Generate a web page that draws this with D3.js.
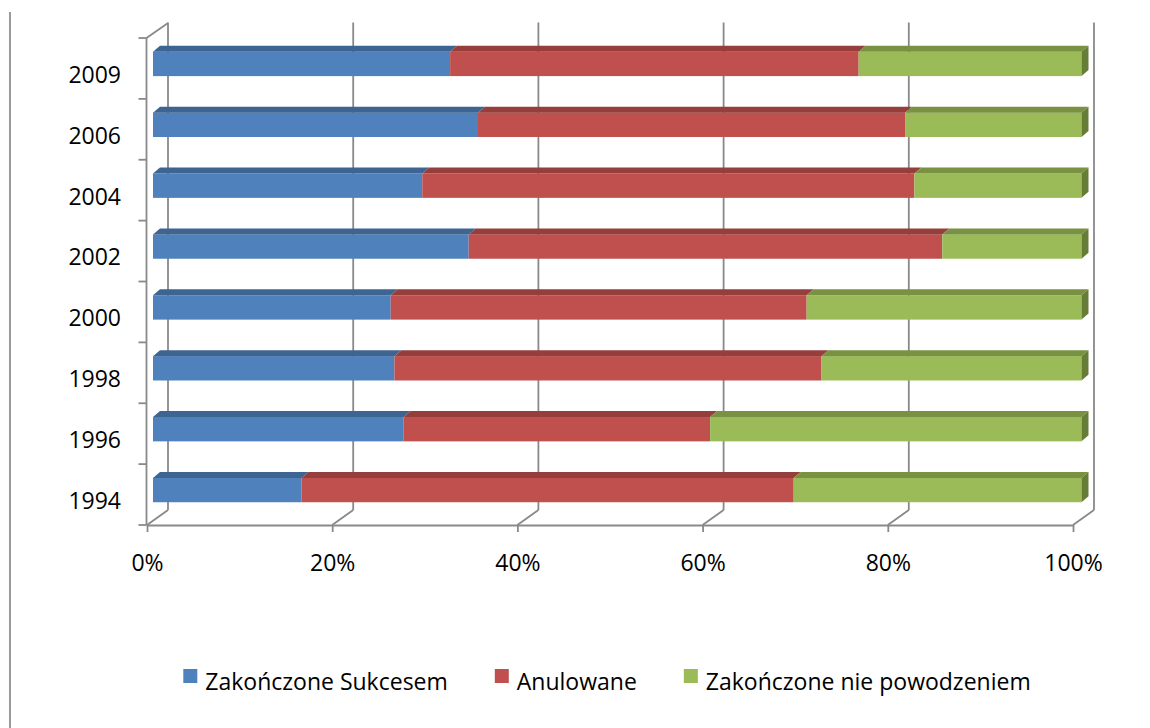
<!DOCTYPE html>
<html>
<head>
<meta charset="utf-8">
<script src="https://cdn.jsdelivr.net/npm/d3@7"></script>
<style>
  html, body { margin: 0; padding: 0; background: #fff; }
  svg { display: block; }
  text { font-family: "Open Sans", "Noto Sans", sans-serif; fill: #000; }
</style>
</head>
<body>
<svg id="chart" width="1150" height="728"></svg>
<script>
// ---- data ----
const categories = ["2009", "2006", "2004", "2002", "2000", "1998", "1996", "1994"];
const seriesNames = ["Zakończone Sukcesem", "Anulowane", "Zakończone nie powodzeniem"];
const success   = [32, 35, 29, 34, 25.6, 26, 27, 16];
const cancelled = [44, 46, 53, 51, 44.8, 46, 33, 53];
const failed    = [24, 19, 18, 15, 29.6, 28, 40, 31];
const xTickValues = [0, 20, 40, 60, 80, 100];

// ---- styles ----
const frontColors = ["#4F81BD", "#C0504D", "#9BBB59"];
const topColors   = ["#3E6592", "#953E3C", "#789241"];
const sideColor   = "#667C37";
const gridColor   = "#898989";

const svg = d3.select("#chart");

// table for stacking
const keys = ["s", "c", "f"];
const table = categories.map((cat, i) => ({ cat, s: success[i], c: cancelled[i], f: failed[i] }));
const stacked = d3.stack().keys(keys).offset(d3.stackOffsetExpand)(table);

// ---- scales ----
const xFront = d3.scaleLinear().domain([0, 1]).range([147, 1073]);
const yFront = d3.scaleBand().domain(categories).range([38, 525]);
const depth = { dx: 21, dy: -15 };           // full depth of the 3D box
const xBar = d3.scaleLinear().domain([0, 1]).range([153, 1081.5]);
const yBar = d3.scaleBand().domain(categories).range([33.5, 520.5]).paddingInner(0.6).paddingOuter(0.3);
const bd = { dx: 7, dy: -6 };                // bar depth

const floorY = 525, topY = 38;

// ---- back wall gridlines ----
const grid = svg.append("g").attr("stroke", gridColor).attr("stroke-width", 1.8).attr("fill", "none");
xTickValues.forEach(t => {
  const xf = xFront(t / 100);
  grid.append("line")
    .attr("x1", xf + depth.dx).attr("y1", topY + depth.dy - 0.5)
    .attr("x2", xf + depth.dx).attr("y2", floorY + depth.dy);
  // floor diagonal
  grid.append("line")
    .attr("x1", xf).attr("y1", floorY)
    .attr("x2", xf + depth.dx).attr("y2", floorY + depth.dy);
});
// left wall top diagonal
grid.append("line")
  .attr("x1", xFront(0) - 0.5).attr("y1", topY)
  .attr("x2", xFront(0) + depth.dx).attr("y2", topY + depth.dy);
// left vertical axis
grid.append("line")
  .attr("x1", xFront(0) - 0.5).attr("y1", topY)
  .attr("x2", xFront(0) - 0.5).attr("y2", floorY);
// category boundary ticks
d3.range(categories.length + 1).forEach(i => {
  const y = i < categories.length ? yFront(categories[i]) : yFront.range()[1];
  grid.append("line")
    .attr("x1", xFront(0) - 8.5).attr("y1", y)
    .attr("x2", xFront(0) - 0.5).attr("y2", y);
});

// ---- x axis (front floor edge) ----
const xAxisScale = d3.scaleLinear().domain([0, 100]).range(xFront.range());
const xAxis = svg.append("g")
  .attr("transform", `translate(0,${floorY})`)
  .call(d3.axisBottom(xAxisScale).tickValues(xTickValues).tickFormat(d => d + "%")
    .tickSize(7).tickSizeOuter(0).tickPadding(23));
xAxis.select(".domain").attr("stroke", gridColor).attr("stroke-width", 1.8);
xAxis.selectAll(".tick line").attr("stroke", gridColor).attr("stroke-width", 1.8);
xAxis.selectAll(".tick text").style("font-size", "23px").style("font-family", "'Open Sans', sans-serif").attr("fill", "#000");

// ---- y axis labels ----
const yAxis = svg.append("g")
  .attr("transform", `translate(121,7)`)
  .call(d3.axisLeft(yFront).tickSize(0).tickPadding(0));
yAxis.select(".domain").remove();
yAxis.selectAll(".tick text").style("font-size", "23px").style("font-family", "'Open Sans', sans-serif").attr("fill", "#000");

// ---- bars ----
const bars = svg.append("g");
stacked.forEach((layer, si) => {
  layer.forEach((d, i) => {
    const cat = categories[i];
    const x0 = xBar(d[0]), x1 = xBar(d[1]);
    const y0 = yBar(cat), y1 = y0 + yBar.bandwidth();
    // front face
    bars.append("rect")
      .attr("x", x0).attr("y", y0)
      .attr("width", x1 - x0).attr("height", y1 - y0)
      .attr("fill", frontColors[si]);
    // top face
    bars.append("polygon")
      .attr("points", [[x0, y0], [x1, y0], [x1 + bd.dx, y0 + bd.dy], [x0 + bd.dx, y0 + bd.dy]].map(p => p.join(",")).join(" "))
      .attr("fill", topColors[si]);
    if (si === stacked.length - 1) {
      bars.append("polygon")
        .attr("points", [[x1, y0], [x1 + bd.dx, y0 + bd.dy], [x1 + bd.dx, y1 + bd.dy], [x1, y1]].map(p => p.join(",")).join(" "))
        .attr("fill", sideColor);
    }
  });
});

// ---- chart border (left edge) ----
svg.append("line")
  .attr("x1", 10).attr("y1", 12).attr("x2", 10).attr("y2", 728)
  .attr("stroke", "#9a9a9a").attr("stroke-width", 2);

// ---- legend ----
const legend = svg.append("g");
const items = [];
let cx = 0;
seriesNames.forEach((name, i) => {
  const g = legend.append("g");
  g.append("rect").attr("x", 0).attr("y", -21).attr("width", 14).attr("height", 14).attr("fill", frontColors[i]);
  const t = g.append("text").attr("x", 22).attr("y", 0).style("font-size", "23px").text(name);
  const w = 22 + t.node().getComputedTextLength();
  g.attr("transform", `translate(${cx},0)`);
  cx += w + 47;
  items.push(g);
});
const totalW = cx - 47;
legend.attr("transform", `translate(${607 - totalW / 2},690)`);
</script>
</body>
</html>
